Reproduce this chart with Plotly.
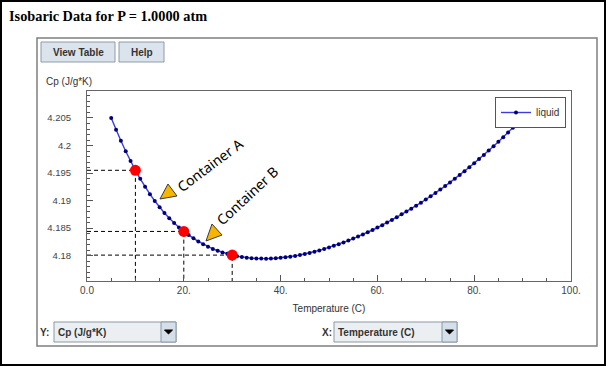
import plotly.graph_objects as go

# ---------------- data ----------------
temperature_C = list(range(5, 91))
cp_liquid = [4.2050, 4.20285, 4.20085, 4.19895, 4.19717, 4.1955,
             4.19395, 4.19251, 4.19117, 4.18993, 4.1888,
             4.18775, 4.1868, 4.18592, 4.18512, 4.1844,
             4.18374, 4.18314, 4.18259, 4.18209, 4.1816,
             4.18122, 4.18089, 4.18059, 4.18033, 4.1801,
             4.1799, 4.17975, 4.17963, 4.17955, 4.1795,
             4.17947, 4.17946, 4.17947, 4.17952, 4.1796,
             4.1797, 4.17982, 4.17996, 4.18012, 4.1803,
             4.1805, 4.18072, 4.18096, 4.18122, 4.1815,
             4.18178, 4.18208, 4.1824, 4.18274, 4.1831,
             4.18346, 4.18384, 4.18424, 4.18466, 4.1851,
             4.18554, 4.186, 4.18648, 4.18698, 4.1875,
             4.188, 4.18852, 4.18906, 4.18962, 4.1902,
             4.19078, 4.19138, 4.192, 4.19264, 4.1933,
             4.19396, 4.19464, 4.19534, 4.19606, 4.1968,
             4.19754, 4.1983, 4.19908, 4.19988, 4.2007,
             4.20152, 4.20236, 4.20322, 4.2041, 4.2050]

container_T = [10, 20, 30]
container_cp = [cp_liquid[temperature_C.index(t)] for t in container_T]
container_labels = ["Container A", "Container B"]

x_tickvals = [0, 20, 40, 60, 80, 100]
x_ticktext = ["0.0", "20.", "40.", "60.", "80.", "100."]
y_tickvals = [4.18, 4.185, 4.19, 4.195, 4.2, 4.205]
y_ticktext = ["4.18", "4.185", "4.19", "4.195", "4.2", "4.205"]

x_range = [0, 100]
y_range = [4.1754, 4.2099]

# ---------------- layout helpers (pixel -> paper) ----------------
W, H = 610, 366
L, R, T, B = 87, 571, 91, 281


def PX(x):
    return (x - L) / (R - L)


def PY(y):
    return (B - y) / (B - T)


SANS = "Liberation Sans, Arial, sans-serif"

fig = go.Figure()

# dashed guide lines from each container point to the axes
gx, gy = [], []
for t, c in zip(container_T, container_cp):
    gx += [x_range[0], t, t, None]
    gy += [c, c, y_range[0], None]
fig.add_trace(go.Scatter(x=gx, y=gy, mode="lines", showlegend=False,
                         line=dict(color="black", width=1, dash="4px,3px"),
                         hoverinfo="skip"))

fig.add_trace(go.Scatter(x=temperature_C, y=cp_liquid, mode="lines+markers",
                         name="liquid",
                         line=dict(color="#3c3ce0", width=1.4),
                         marker=dict(color="#00007a", size=4)))

fig.add_trace(go.Scatter(x=container_T, y=container_cp, mode="markers",
                         showlegend=False,
                         marker=dict(color="#ff0000", size=11)))

shapes = []
annotations = []

# outer frame and panel
shapes.append(dict(type="rect", xref="paper", yref="paper",
                   x0=PX(1), y0=PY(1), x1=PX(605), y1=PY(365),
                   line=dict(color="black", width=2), layer="below"))
shapes.append(dict(type="rect", xref="paper", yref="paper",
                   x0=PX(37), y0=PY(38), x1=PX(597), y1=PY(346),
                   line=dict(color="#7f7f7f", width=1.5), layer="below"))

# buttons
for (x0, x1, label) in [(41, 115, "View Table"), (119, 164, "Help")]:
    shapes.append(dict(type="rect", xref="paper", yref="paper",
                       x0=PX(x0), y0=PY(42), x1=PX(x1), y1=PY(62),
                       fillcolor="#dbe3ec", line=dict(color="#8d9cab", width=1)))
    annotations.append(dict(xref="paper", yref="paper", x=PX((x0 + x1) / 2), y=PY(52),
                            text="<b>%s</b>" % label, showarrow=False,
                            xanchor="center", yanchor="middle",
                            font=dict(family=SANS, size=10, color="#333333")))

# dropdowns
for (lx, bx0, bx1, lab, val) in [(38, 54, 176, "Y:", "Cp (J/g*K)"),
                                 (320, 334, 457, "X:", "Temperature (C)")]:
    shapes.append(dict(type="rect", xref="paper", yref="paper",
                       x0=PX(bx0), y0=PY(322), x1=PX(bx1), y1=PY(342),
                       fillcolor="#eceff2", line=dict(color="#8a98a6", width=1)))
    shapes.append(dict(type="rect", xref="paper", yref="paper",
                       x0=PX(bx1 - 15), y0=PY(322), x1=PX(bx1), y1=PY(342),
                       fillcolor="#d5dfe9", line=dict(color="#8a98a6", width=1)))
    cx = bx1 - 7.5
    shapes.append(dict(type="path", xref="paper", yref="paper",
                       path="M %f,%f L %f,%f L %f,%f Z" % (PX(cx - 4), PY(330), PX(cx + 4), PY(330),
                                                          PX(cx), PY(334)),
                       fillcolor="black", line=dict(color="black", width=1)))
    annotations.append(dict(xref="paper", yref="paper", x=PX(lx), y=PY(332),
                            text="<b>%s</b>" % lab, showarrow=False,
                            xanchor="left", yanchor="middle",
                            font=dict(family=SANS, size=10, color="#333333")))
    annotations.append(dict(xref="paper", yref="paper", x=PX(bx0 + 2), y=PY(332),
                            text="<b>%s</b>" % val, showarrow=False,
                            xanchor="left", yanchor="middle",
                            font=dict(family=SANS, size=10, color="#333333")))

# title and y label
annotations.append(dict(xref="paper", yref="paper", x=PX(7), y=PY(16),
                        text="<b>Isobaric Data for P = 1.0000 atm</b>", showarrow=False,
                        xanchor="left", yanchor="middle",
                        font=dict(family="Liberation Serif, Times New Roman, serif",
                                  size=14.3, color="black")))
annotations.append(dict(xref="paper", yref="paper", x=PX(44), y=PY(81),
                        text="Cp (J/g*K)", showarrow=False,
                        xanchor="left", yanchor="middle",
                        font=dict(family=SANS, size=10, color="#333333")))

# container callouts: triangles + rotated labels
tri_pts = [[(160, 199), (168, 184), (177, 196)],
           [(206, 241), (212, 224), (222, 235)]]
for pts in tri_pts:
    p = "M " + " L ".join("%f,%f" % (PX(a), PY(b)) for a, b in pts) + " Z"
    shapes.append(dict(type="path", xref="paper", yref="paper", path=p,
                       fillcolor="#f7b500", line=dict(color="#3a3a3a", width=1)))
for (cx, cy, ang), txt in zip([(209, 165, -37), (247, 195, -43)], container_labels):
    annotations.append(dict(xref="paper", yref="paper", x=PX(cx), y=PY(cy),
                            text=txt, showarrow=False, textangle=ang,
                            xanchor="center", yanchor="middle",
                            font=dict(family="Noto Sans, sans-serif", size=14, color="black")))

fig.update_layout(
    width=W, height=H,
    margin=dict(l=L, r=W - R, t=T, b=H - B),
    paper_bgcolor="white", plot_bgcolor="white",
    shapes=shapes, annotations=annotations,
    showlegend=True,
    legend=dict(x=PX(566), y=PY(97), xanchor="right", yanchor="top",
                bgcolor="white", bordercolor="#555555", borderwidth=1,
                font=dict(family=SANS, size=10, color="#333333"),
                itemwidth=30),
    xaxis=dict(range=x_range, tickvals=x_tickvals, ticktext=x_ticktext,
               ticks="inside", ticklen=6, tickcolor="#555555",
               showline=True, linecolor="#666666", linewidth=1, mirror=True,
               showgrid=False, zeroline=False,
               tickfont=dict(family=SANS, size=10, color="#444444"),
               minor=dict(dtick=5, tick0=0, ticks="inside", ticklen=3, tickcolor="#555555"),
               title=dict(text="Temperature (C)", standoff=9,
                          font=dict(family=SANS, size=10, color="#333333"))),
    yaxis=dict(range=y_range, tickvals=y_tickvals, ticktext=y_ticktext,
               ticks="inside", ticklen=6, tickcolor="#555555",
               showline=True, linecolor="#666666", linewidth=1, mirror=True,
               showgrid=False, zeroline=False, ticklabelstandoff=13,
               tickfont=dict(family=SANS, size=9.5, color="#444444"),
               minor=dict(dtick=0.001, tick0=4.18, ticks="inside", ticklen=3,
                          tickcolor="#555555")),
)

fig.write_html("out.html", config={"displayModeBar": False},
               post_script="document.body.style.margin='0';document.body.style.overflow='hidden';")
